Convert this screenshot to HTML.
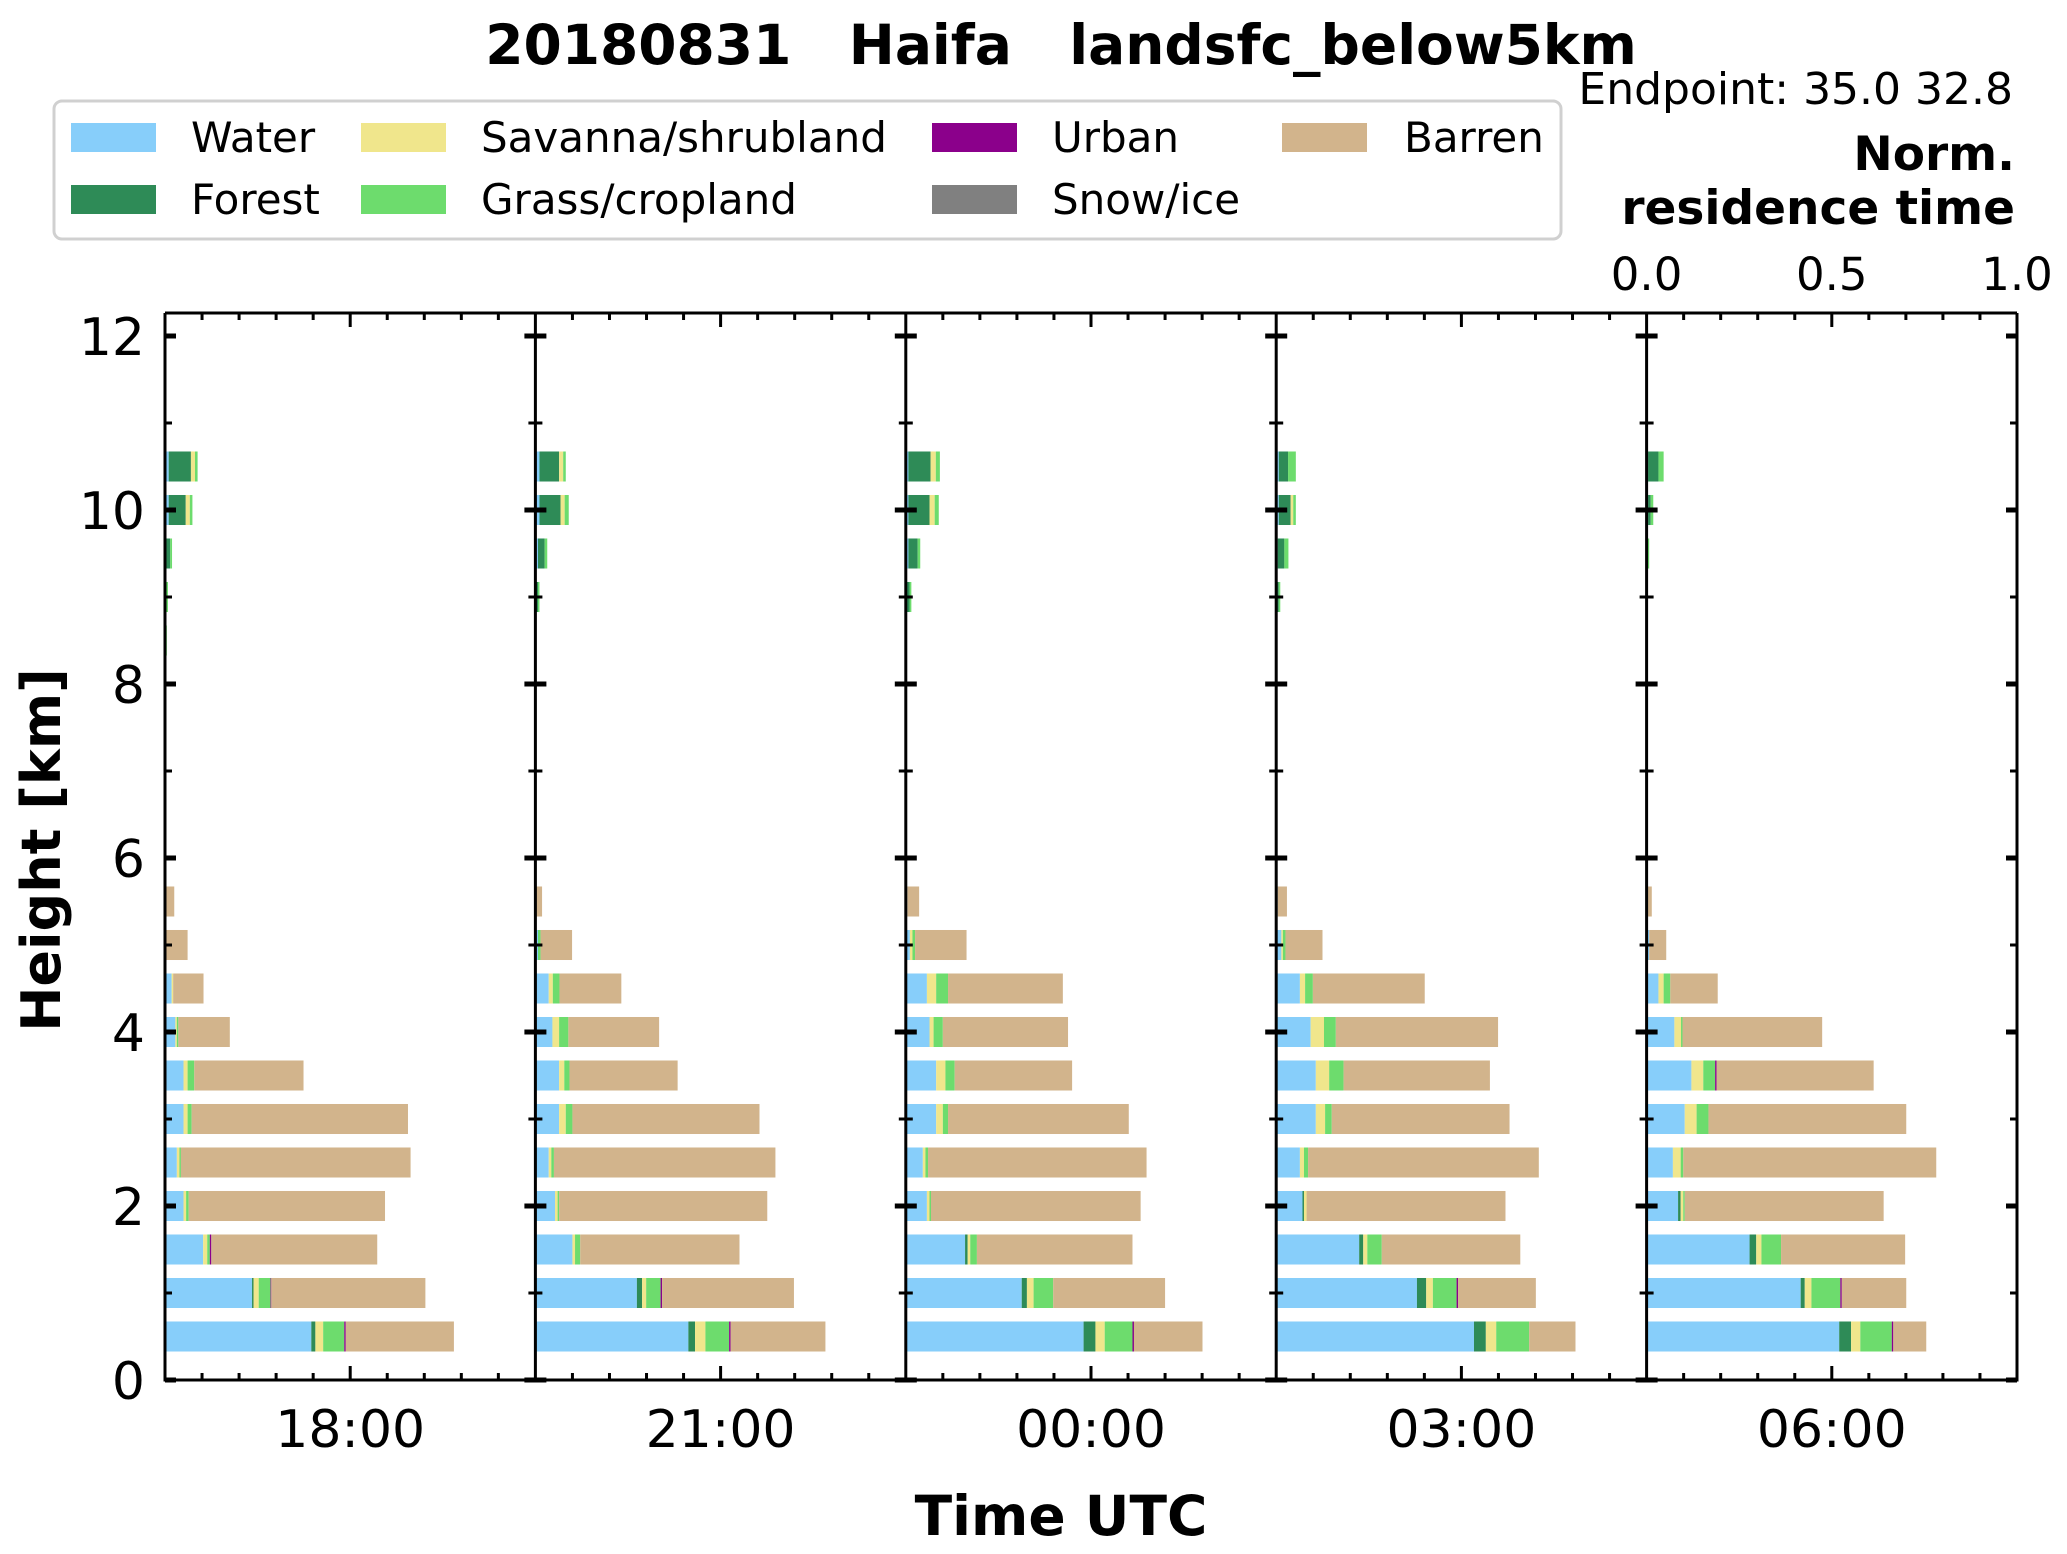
<!DOCTYPE html>
<html><head><meta charset="utf-8">
<style>
html,body{margin:0;padding:0;background:#fff;}
svg{display:block;font-family:"DejaVu Sans","Liberation Sans",sans-serif;}
</style></head>
<body>
<svg id="chart" width="2067" height="1554" viewBox="0 0 2067 1554" xmlns="http://www.w3.org/2000/svg">
<rect x="0" y="0" width="2067" height="1554" fill="#fff"/>
<text x="1061" y="64" text-anchor="middle" font-size="55" font-weight="bold" xml:space="preserve">20180831   Haifa   landsfc_below5km</text>
<text x="2013" y="104" text-anchor="end" font-size="44">Endpoint: 35.0 32.8</text>
<text x="2015" y="170" text-anchor="end" font-size="47" font-weight="bold">Norm.</text>
<text x="2015" y="224" text-anchor="end" font-size="47" font-weight="bold">residence time</text>
<g id="legend">
<rect x="54" y="101" width="1507" height="138" rx="8" fill="#fff" stroke="#d0d0d0" stroke-width="3"/>
</g>
<g id="plot"></g>
<text x="1061" y="1535" text-anchor="middle" font-size="55" font-weight="bold">Time UTC</text>
<text x="0" y="0" transform="translate(60,850) rotate(-90)" text-anchor="middle" font-size="54" font-weight="bold">Height [km]</text>
</svg>
<script>
const categories = ["Water","Forest","Savanna/shrubland","Grass/cropland","Urban","Snow/ice","Barren"];
const colors = ["#87cefa","#2e8b57","#f0e68c","#6ddc6d","#8b008b","#808080","#d2b48c"];
const panelLabels = ["18:00","21:00","00:00","03:00","06:00"];
const heightLevels = [0.5,1.0,1.5,2.0,2.5,3.0,3.5,4.0,4.5,5.0,5.5,6.0,6.5,7.0,7.5,8.0,8.5,9.0,9.5,10.0,10.5];
const yTicks = [0,2,4,6,8,10,12];
const topTicks = ["0.0","0.5","1.0"];
const panel1 = [
[.395,.011,.021,.057,.004,0,.292],[.235,.004,.014,.032,.002,0,.416],[.103,0,.011,.007,.004,0,.448],
[.05,0,.007,.007,0,0,.53],[.032,0,.007,.004,0,0,.62],[.05,0,.011,.011,0,0,.584],[.05,0,.011,.018,0,0,.295],
[.028,0,.004,.004,0,0,.139],[.018,0,.004,0,0,0,.082],[.004,0,0,0,0,0,.057],[0,0,0,0,0,0,.025],
[0,0,0,0,0,0,.003],[0,0,0,0,0,0,0],[0,0,0,0,.003,0,0],[0,0,0,0,0,0,0],[0,0,0,0,0,0,0],
[0,0,0,.005,0,0,0],[0,.003,0,.005,0,0,0],[.004,.01,0,.005,0,0,0],[.01,.046,.011,.007,0,0,0],[.01,.06,.011,.007,0,0,0]];
const panel2 = [
[.413,.018,.028,.064,.004,0,.256],[.274,.014,.011,.039,.004,0,.356],[.1,0,.007,.014,0,0,.43],
[.053,0,.007,.004,0,0,.562],[.036,0,.007,.007,0,0,.598],[.064,0,.018,.018,0,0,.505],[.064,0,.014,.014,0,0,.292],
[.046,0,.018,.025,0,0,.245],[.036,0,.011,.018,0,0,.167],[.007,0,0,.007,0,0,.085],[0,0,0,0,0,0,.018],
[0,0,0,0,0,0,0],[0,0,0,0,0,0,0],[0,0,0,0,0,0,0],[0,0,0,0,0,0,0],[0,0,0,0,0,0,0],
[0,0,0,0,0,0,0],[0,.007,0,.004,0,0,0],[.007,.018,0,.007,0,0,0],[.011,.057,.011,.011,0,0,0],[.011,.053,.011,.007,0,0,0]];
const panel3 = [
[.48,.032,.025,.075,.004,0,.185],[.313,.014,.018,.053,0,0,.302],[.16,.007,.007,.018,0,0,.42],
[.057,0,.007,.004,0,0,.566],[.046,0,.007,.007,0,0,.59],[.082,0,.018,.014,0,0,.488],[.082,0,.025,.025,0,0,.317],
[.064,0,.011,.025,0,0,.338],[.057,0,.025,.032,0,0,.31],[.011,0,.007,.007,0,0,.139],[.004,0,0,0,0,0,.032],
[0,0,0,.003,0,0,0],[0,0,0,0,0,0,0],[0,0,0,0,0,0,0],[0,0,0,0,0,0,0],[0,0,0,0,0,0,0],
[0,0,0,0,0,0,0],[0,.01,0,.005,0,0,0],[.007,.025,0,.007,0,0,0],[.007,.057,.014,.011,0,0,0],[.007,.06,.014,.011,0,0,0]];
const panel4 = [
[.534,.032,.028,.089,0,0,.125],[.38,.025,.018,.064,.004,0,.21],[.224,.011,.011,.039,0,0,.374],
[.071,.004,.007,0,0,0,.537],[.064,0,.011,.011,0,0,.623],[.107,0,.025,.018,0,0,.48],[.107,0,.036,.039,0,0,.395],
[.093,0,.036,.032,0,0,.438],[.064,0,.014,.021,0,0,.302],[.014,0,.004,.007,0,0,.1],[.004,0,0,0,0,0,.025],
[0,0,0,0,0,0,.003],[0,0,0,0,0,0,0],[0,0,0,0,0,0,0],[0,0,0,0,0,0,0],[0,0,0,0,0,0,0],
[0,0,0,0,0,0,0],[0,.007,0,.004,0,0,0],[.004,.018,0,.011,0,0,0],[.007,.032,.007,.007,0,0,0],[.007,.025,0,.021,0,0,0]];
const panel5 = [
[.52,.032,.025,.085,.004,0,.089],[.416,.011,.018,.078,.004,0,.174],[.278,.018,.014,.053,0,0,.335],
[.085,.007,.007,.004,0,0,.537],[.071,0,.021,.007,0,0,.683],[.103,0,.032,.032,0,0,.534],[.121,0,.032,.032,.004,0,.424],
[.075,0,.018,.004,0,0,.377],[.032,0,.014,.018,0,0,.128],[.007,0,0,0,0,0,.046],[0,0,0,0,0,0,.014],
[0,0,0,0,0,0,.003],[0,0,0,0,0,0,0],[0,0,0,0,0,0,0],[0,0,0,0,0,0,0],[0,0,0,0,0,0,0],
[0,0,0,0,0,0,0],[0,0,0,0,0,0,0],[0,0,0,.007,0,0,0],[.004,.007,0,.007,0,0,0],[.004,.028,0,.014,0,0,0]];
const panels = [panel1,panel2,panel3,panel4,panel5];

const NS = "http://www.w3.org/2000/svg";
const X0 = 165, PW = 370.4, Y0 = 1380, PXKM = 87, YTOP = 313, BARH = 0.345;
function yScale(km){ return Y0 - km*PXKM; }
function xScale(p, v){ return X0 + p*PW + v*PW; }
function mk(tag, attrs, parent){ const e = document.createElementNS(NS, tag); for (const k in attrs) e.setAttribute(k, attrs[k]); parent.appendChild(e); return e; }
const plot = document.getElementById('plot');
const legend = document.getElementById('legend');

const legendOrder = [[0,0],[1,0],[2,1],[3,1],[4,2],[5,2],[6,3]];
const colHandle = [71,361,932,1282];
const colText = [191,481,1052,1404];
const rowY = [137,199];
legendOrder.forEach((o,i)=>{
  const row = i===6 ? 0 : (i%2);
  const col = o[1];
  const r = mk('rect',{x:colHandle[col],y:rowY[row]-14,width:85,height:29,fill:colors[o[0]]},legend);
  
  
  const t = mk('text',{x:colText[col],y:rowY[row]+15,'font-size':42},legend);
  t.textContent = categories[o[0]];
  
  
});

panels.forEach((data,p)=>{
  const g = mk('g',{},plot);
  
  
  data.forEach((vals,li)=>{
    let acc = 0;
    const yc = yScale(heightLevels[li]);
    const h = BARH*PXKM;
    vals.forEach((v,ci)=>{
      if (v<=0){ return; }
      const r = mk('rect',{x:xScale(p,acc),y:yc-h/2,width:v*PW,height:h,fill:colors[ci]},g);
      
      
      acc += v;
    });
  });
});

const ax = mk('g',{stroke:'#000',fill:'none'},plot);


for (let p=0;p<5;p++){
  const xl = X0+p*PW;
  for (let k=1;k<10;k++){
    const x = xl + k*PW/10;
    const len = k===5 ? 14 : 7;
    mk('line',{x1:x,y1:Y0,x2:x,y2:Y0-len,'stroke-width':3},ax);
    mk('line',{x1:x,y1:YTOP,x2:x,y2:YTOP+len,'stroke-width':3},ax);
  }
  const lbl = mk('text',{x:xl+PW/2,y:1447,'text-anchor':'middle','font-size':52,fill:'#000',stroke:'none'},plot);
  lbl.textContent = panelLabels[p];
  
  
}
for (let p=0;p<=5;p++){
  const x = X0+p*PW;
  mk('line',{x1:x,y1:YTOP,x2:x,y2:Y0+1.5,'stroke-width':3},ax);
  for (let km=0;km<=12;km++){
    const y = yScale(km);
    const major = km%2===0;
    const l = major ? 11 : 7;
    mk('line',{x1:p===0?x:x-l,x2:p===5?x:x+l,y1:y,y2:y,'stroke-width':major?5:3},ax);
  }
}
mk('line',{x1:X0,y1:Y0,x2:X0+5*PW,y2:Y0,'stroke-width':3},ax);
mk('line',{x1:X0,y1:YTOP,x2:X0+5*PW,y2:YTOP,'stroke-width':3},ax);
yTicks.forEach(v=>{
  const t = mk('text',{x:145,y:yScale(v)+19,'text-anchor':'end','font-size':52},plot);
  t.textContent = String(v);
  
  
});
topTicks.forEach((s,i)=>{
  const t = mk('text',{x:X0+4*PW+i*PW/2,y:290,'text-anchor':'middle','font-size':45},plot);
  t.textContent = s;
  
  
});
</script>
</body></html>
